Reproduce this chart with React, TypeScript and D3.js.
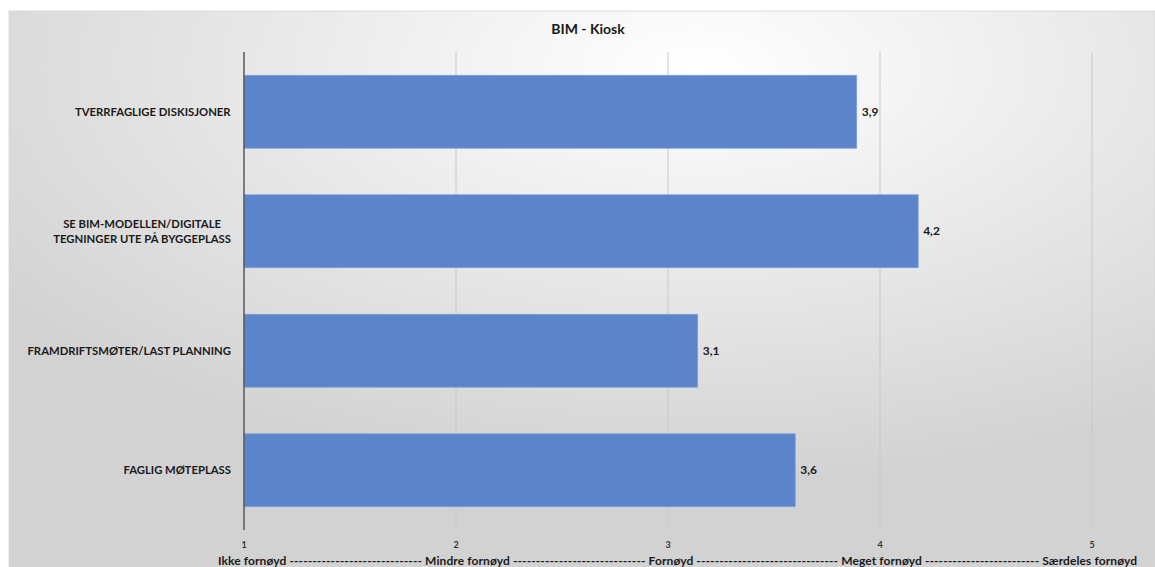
import React, { useEffect, useRef } from 'react';
import * as d3 from 'd3';

const categories = [
  ['TVERRFAGLIGE DISKISJONER'],
  ['SE BIM-MODELLEN/DIGITALE', 'TEGNINGER UTE PÅ BYGGEPLASS'],
  ['FRAMDRIFTSMØTER/LAST PLANNING'],
  ['FAGLIG MØTEPLASS'],
];
const values = [3.89, 4.18, 3.14, 3.6];
const ticks = [1, 2, 3, 4, 5];
const scaleText =
  'Ikke fornøyd ----------------------------- Mindre fornøyd ----------------------------- Fornøyd ------------------------------- Meget fornøyd ------------------------- Særdeles fornøyd';

const App = () => {
  const ref = useRef<SVGSVGElement>(null);

  useEffect(() => {
    const svg = d3.select(ref.current);
    svg.selectAll('*').remove();

    const width = 1155;
    const height = 567;
    const font = 'Lato, "Open Sans", sans-serif';

    const defs = svg.append('defs');
    const grad = defs
      .append('radialGradient')
      .attr('id', 'bg')
      .attr('cx', '0.6')
      .attr('cy', '0.1')
      .attr('r', '0.75');
    grad.append('stop').attr('offset', '0%').attr('stop-color', '#ffffff');
    grad.append('stop').attr('offset', '100%').attr('stop-color', '#d2d2d2');

    svg.append('rect').attr('width', width).attr('height', height).attr('fill', '#fff');
    svg
      .append('rect')
      .attr('x', 9)
      .attr('y', 11)
      .attr('width', width - 9)
      .attr('height', height - 11)
      .attr('fill', 'url(#bg)')
      .attr('stroke', '#d6d6d6')
      .attr('stroke-width', 0.8);

    const x = d3.scaleLinear().domain([1, 5]).range([244, 1092]);
    const y = d3
      .scaleBand<number>()
      .domain(d3.range(values.length))
      .range([52, 530])
      .paddingInner(0.39)
      .paddingOuter(0.195);

    // gridlines
    svg
      .append('g')
      .selectAll('line')
      .data(ticks.slice(1))
      .enter()
      .append('line')
      .attr('x1', d => x(d))
      .attr('x2', d => x(d))
      .attr('y1', 52)
      .attr('y2', 530)
      .attr('stroke', '#c8c8c8')
      .attr('stroke-width', 1);

    // bars
    svg
      .append('g')
      .selectAll('rect')
      .data(values)
      .enter()
      .append('rect')
      .attr('x', x(1))
      .attr('y', (d, i) => y(i)!)
      .attr('width', d => x(d) - x(1))
      .attr('height', y.bandwidth())
      .attr('fill', '#5b84cb')
      .attr('stroke', '#7d9fd8')
      .attr('stroke-width', 0.8);

    // axis line
    svg
      .append('line')
      .attr('x1', 244)
      .attr('x2', 244)
      .attr('y1', 52)
      .attr('y2', 530)
      .attr('stroke', '#595959')
      .attr('stroke-width', 1.5);

    // value labels
    svg
      .append('g')
      .selectAll('text')
      .data(values)
      .enter()
      .append('text')
      .attr('x', d => x(d) + 5)
      .attr('y', (d, i) => y(i)! + y.bandwidth() / 2 + 4)
      .attr('font-family', font)
      .attr('font-weight', 700)
      .attr('font-size', 12)
      .attr('fill', '#1a1a1a')
      .text(d => d3.format('.1f')(d).replace('.', ','));

    // category labels, lines centred inside a right-aligned block
    const lab = svg.append('g');
    categories.forEach((lines, i) => {
      const cy = y(i)! + y.bandwidth() / 2;
      const t = lab
        .append('text')
        .attr('font-family', font)
        .attr('font-weight', 700)
        .attr('font-size', 11.3)
        .attr('fill', '#1a1a1a')
        .attr('text-anchor', 'middle');
      lines.forEach((l, j) => {
        t.append('tspan')
          .attr('x', 0)
          .attr('y', cy + 4 + (j - (lines.length - 1) / 2) * 15)
          .text(l);
      });
      const w = (t.node() as SVGTextElement).getBBox().width;
      t.selectAll('tspan').attr('x', 231 - w / 2);
    });

    // tick labels
    svg
      .append('g')
      .selectAll('text')
      .data(ticks)
      .enter()
      .append('text')
      .attr('x', d => x(d))
      .attr('y', 548)
      .attr('text-anchor', 'middle')
      .attr('font-family', font)
      .attr('font-weight', 700)
      .attr('font-size', 9)
      .attr('fill', '#333')
      .text(d => d);

    svg
      .append('text')
      .attr('x', 218)
      .attr('y', 565)
      .attr('textLength', 919)
      .attr('lengthAdjust', 'spacing')
      .attr('font-family', font)
      .attr('font-weight', 700)
      .attr('font-size', 12)
      .attr('fill', '#1a1a1a')
      .text(scaleText);

    // title
    svg
      .append('text')
      .attr('x', 588)
      .attr('y', 34)
      .attr('text-anchor', 'middle')
      .attr('font-family', font)
      .attr('font-weight', 700)
      .attr('font-size', 14)
      .attr('fill', '#1a1a1a')
      .text('BIM - Kiosk');
  }, []);

  return (
    <svg
      ref={ref}
      width={1155}
      height={567}
      style={{ position: 'fixed', left: 0, top: 0 }}
    />
  );
};

export default App;
